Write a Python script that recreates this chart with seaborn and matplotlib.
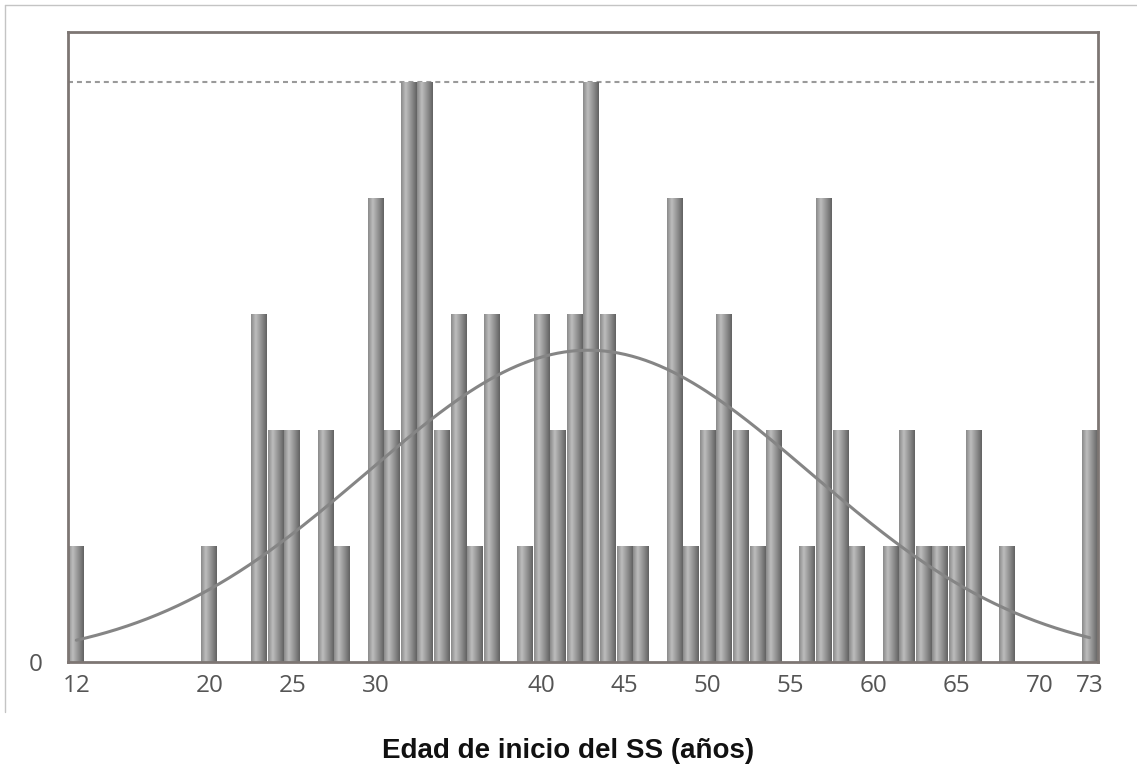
import numpy as np
import pandas as pd
import matplotlib
matplotlib.use("Agg")
import matplotlib.pyplot as plt
import seaborn as sns
from matplotlib.colors import LinearSegmentedColormap
from matplotlib.lines import Line2D

# ---- data ----
ages = [12, 20, 23, 24, 25, 27, 28, 30, 31, 32, 33, 34, 35, 36, 37, 39, 40, 41,
        42, 43, 44, 45, 46, 48, 49, 50, 51, 52, 53, 54, 56, 57, 58, 59, 61, 62,
        63, 64, 65, 66, 68, 73]
counts = [1, 1, 3, 2, 2, 2, 1, 4, 2, 5, 5, 2, 3, 1, 3, 1, 3, 2,
          3, 5, 3, 1, 1, 4, 1, 2, 3, 2, 1, 2, 1, 4, 2, 1, 1, 2,
          1, 1, 1, 2, 1, 2]
tick_values = [12, 20, 25, 30, 40, 45, 50, 55, 60, 65, 70, 73]
tick_labels = ["12", "20", "25", "30", "40", "45", "50", "55", "60", "65", "70", "73"]
x_label = "Edad de inicio del SS (años)"
ref_level = 5

df = pd.DataFrame({"age": ages, "count": counts})

sns.set_style("white")
plt.rcParams["font.family"] = ["Open Sans", "DejaVu Sans"]

W, H = 1137, 776
fig = plt.figure(figsize=(W / 100, H / 100), dpi=100)
ax = fig.add_axes([68 / W, 1 - 662 / H, (1098 - 68) / W, (662 - 32) / H])

sns.barplot(data=df, x="age", y="count", native_scale=True, width=0.94,
            color="#999999", linewidth=0, ax=ax, zorder=2)

xlim = (11.5, 73.5)
ylim = (0, 5.43)

# cylindrical gradient on each bar
cmap = LinearSegmentedColormap.from_list(
    "cyl", [(0.0, "#8a8a8a"), (0.3, "#bdbdbd"), (0.75, "#848484"), (1.0, "#626262")])
grad = np.linspace(0, 1, 64).reshape(1, -1)
for p in list(ax.patches):
    x0, y0 = p.get_x(), p.get_y()
    w, h = p.get_width(), p.get_height()
    im = ax.imshow(grad, extent=[x0, x0 + w, y0, y0 + h], aspect="auto",
                   cmap=cmap, zorder=2.1, interpolation="bilinear")
    im.set_clip_path(p)

# fitted normal curve
raw = np.repeat(np.array(ages, dtype=float), counts)
mu, sd = raw.mean(), raw.std(ddof=1)
xs = np.linspace(min(ages), max(ages), 300)
ys = len(raw) * np.exp(-0.5 * ((xs - mu) / sd) ** 2) / (sd * np.sqrt(2 * np.pi))
sns.lineplot(x=xs, y=ys, color="#858585", linewidth=2.2, ax=ax, zorder=3)

# dashed reference line at the maximum
ax.axhline(ref_level, color="#9a9a9a", linewidth=1.5, linestyle=(0, (2.4, 1.9)), zorder=1)

ax.set_xlim(*xlim)
ax.set_ylim(*ylim)

ax.set_xticks(tick_values)
ax.set_xticklabels(tick_labels)
ax.set_yticks([0])
ax.set_yticklabels(["0"])
ax.tick_params(axis="both", length=0, labelsize=17.5, labelcolor="#555555")
ax.tick_params(axis="x", pad=9)
ax.tick_params(axis="y", pad=18)

for s in ax.spines.values():
    s.set_visible(True)
    s.set_color("#7d7673")
    s.set_linewidth(2.0)

ax.set_ylabel("")
ax.set_xlabel(x_label, fontsize=20, fontweight="bold", family="Liberation Sans",
              color="#111111")
ax.xaxis.set_label_coords((568 - 68) / (1098 - 68), -(751 - 662) / (662 - 32))
ax.xaxis.label.set_va("center")

# thin outer frame lines of the original image
fig.add_artist(Line2D([5 / W, 1], [1 - 5 / H, 1 - 5 / H], transform=fig.transFigure,
                      color="#c4c4c4", linewidth=1))
fig.add_artist(Line2D([5 / W, 5 / W], [1 - 5 / H, 1 - 712 / H], transform=fig.transFigure,
                      color="#c4c4c4", linewidth=1))

fig.savefig("out.png", dpi=100, facecolor="white")
